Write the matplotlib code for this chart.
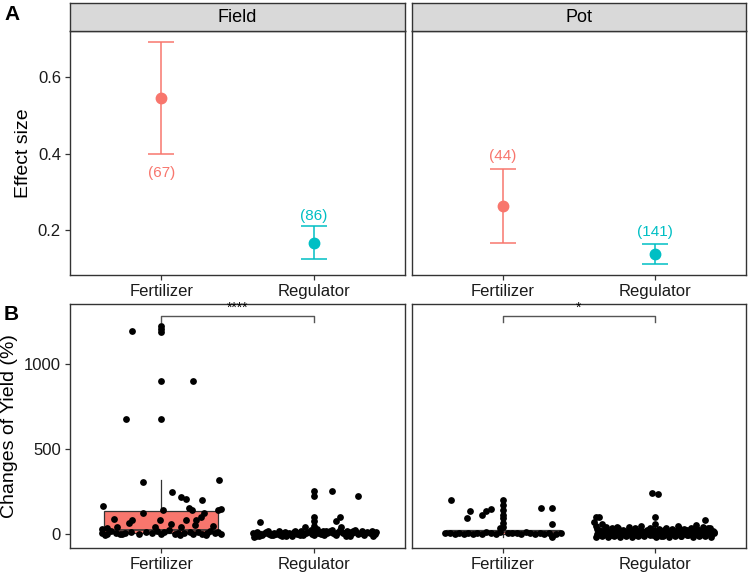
import numpy as np
import matplotlib.pyplot as plt

plt.rcParams['font.family'] = ['Liberation Sans', 'DejaVu Sans']

# ---- panel A data (effect size, CI, sample size)
groups = ['Fertilizer', 'Regulator']
settings = ['Field', 'Pot']
effect_mean = {'Field': [0.544, 0.167], 'Pot': [0.263, 0.139]}
effect_low = {'Field': [0.399, 0.124], 'Pot': [0.167, 0.111]}
effect_high = {'Field': [0.690, 0.210], 'Pot': [0.361, 0.165]}
n_labels = {'Field': ['(67)', '(86)'], 'Pot': ['(44)', '(141)']}
label_y = {'Field': [0.350, 0.238], 'Pot': [0.393, 0.195]}

# ---- panel B data (jittered raw points)
ff_off = [-0.19, 0, 0, 0, 0, 0.21, -0.23, 0, -0.12, 0.38, 0.07, 0.13, 0.16, -0.38, 0.27, 0.18, 0.20, 0.01,
          0.39, 0.37, 0.28, 0.26, 0.23, -0.12, -0.31, -0.19, -0.21, -0.01, 0.16, 0.06, 0.22, -0.29, 0.13,
          -0.04, 0.34, -0.36, -0.39,
          -0.39, -0.36, -0.33, -0.3, -0.27, -0.24, -0.2, -0.15, -0.1, -0.06, -0.03, 0.0, 0.02, 0.05, 0.09,
          0.11, 0.15, 0.19, 0.21, 0.24, 0.27, 0.3, 0.32, 0.35, 0.37, 0.39, -0.37, -0.26, 0.12, 0.29]
ff_val = [1193, 1221, 1203, 1188, 898, 898, 676, 676, 307, 316, 250, 217, 209, 168, 201, 156, 142, 142,
          150, 142, 123, 100, 82, 123, 91, 84, 68, 84, 84, 59, 53, 43, 43, 43, 49, 35, 29,
          10, 2, 18, 5, 0, 8, 15, 3, 12, 6, 20, 2, 14, 25, 4, 10, 7, 16, 3, 12, 1, 9, 20, 5, 14, 2,
          -3, 0, -2, -4]

fr_off = [0, 0, 0.12, 0.29, 0, 0, 0.17, 0.15, -0.35, 0, -0.06, 0.18,
          -0.40, -0.38, -0.37, -0.35, -0.34, -0.32, -0.31, -0.29, -0.28, -0.26,
          -0.25, -0.23, -0.22, -0.20, -0.19, -0.17, -0.16, -0.14, -0.13, -0.11,
          -0.10, -0.08, -0.07, -0.05, -0.04, -0.02, -0.01, 0.01, 0.02, 0.03,
          0.04, 0.05, 0.06, 0.08, 0.09, 0.10, 0.11, 0.13, 0.14, 0.16,
          0.17, 0.19, 0.20, 0.22, 0.23, 0.25, 0.26, 0.28, 0.29, 0.31,
          0.32, 0.34, 0.35, 0.37, 0.38, 0.40, 0.41, -0.36, -0.27, -0.18,
          -0.09, 0.0, 0.07, 0.15, 0.24, 0.33, -0.30, -0.12, 0.12, 0.27,
          -0.39, 0.39, -0.21, 0.21]
fr_val = [254, 224, 254, 224, 100, 80, 100, 80, 74, 49, 45, 45,
          5, -8, 12, 2, -3, 8, 15, 0, -6, 10,
          3, 18, -2, 7, 12, 0, 5, -10, 14, 3,
          8, 20, -4, 6, 11, 25, 2, 15, 30, 9,
          12, 4, 18, 22, 6, 14, 20, 8, 3, 16,
          25, 10, 5, 18, 12, 8, 20, 15, 4, 10,
          22, 6, 14, 9, 18, 3, 12, -12, -5, -8,
          -3, -2, -6, -4, -7, -3, 20, 22, 28, 26,
          -15, -10, -12, -9]

pf_off = [-0.34, 0, 0, 0, 0, 0, 0, -0.22, -0.24, -0.14, -0.11, -0.08, 0.25, 0.32, 0.32, 0.32, 0.0, -0.02,
          -0.38, -0.35, -0.32, -0.29, -0.26, -0.23, -0.2, -0.17, -0.14, -0.11, -0.08, -0.05, -0.02,
          0.03, 0.06, 0.09, 0.12, 0.15, 0.18, 0.21, 0.24, 0.27, 0.3, 0.35, 0.38, 0.32]
pf_val = [201, 201, 172, 142, 113, 94, 64, 137, 97, 111, 137, 147, 152, 152, 60, -14, 45, 35,
          5, 8, 2, 10, 3, 6, 0, 8, 4, 12, 6, 2, 15, 10, 5, 8, 3, 12, 6, 2, 9, 4, 10, 3, 6, -12]

pr_off = [-0.02, 0.02, 0, -0.39, -0.37, 0.33,
          -0.40, -0.39, -0.38, -0.37, -0.36, -0.35, -0.34, -0.33, -0.32, -0.31, -0.30, -0.29, -0.28, -0.27, -0.26,
          -0.25, -0.24, -0.23, -0.22, -0.21, -0.20, -0.19, -0.18, -0.17, -0.16, -0.15, -0.14, -0.13, -0.12, -0.11,
          -0.10, -0.09, -0.08, -0.07, -0.06, -0.05, -0.04, -0.03, -0.02, -0.01, 0.00, 0.01, 0.02, 0.03, 0.04,
          0.05, 0.06, 0.07, 0.08, 0.09, 0.10, 0.11, 0.12, 0.13, 0.14, 0.15, 0.16, 0.17, 0.18, 0.19,
          0.20, 0.21, 0.22, 0.23, 0.24, 0.25, 0.26, 0.27, 0.28, 0.29, 0.30, 0.31, 0.32, 0.33, 0.34,
          0.35, 0.36, 0.37, 0.38, 0.39, -0.39, -0.35, -0.31, -0.27, -0.23, -0.19, -0.15, -0.11, -0.07, -0.03,
          0.01, 0.05, 0.09, 0.13, 0.17, 0.21, 0.25, 0.29, 0.33, 0.37, -0.37, -0.33, -0.29, -0.25, -0.21,
          -0.17, -0.13, -0.09, -0.05, -0.01, 0.03, 0.07, 0.11, 0.15, 0.19, 0.23, 0.27, 0.31, 0.35, 0.39,
          -0.38, -0.34, -0.30, -0.26, -0.22, -0.18, -0.14, -0.10, -0.06, -0.02, 0.02, 0.06, 0.10, 0.14, 0.18]
pr_val = [240, 238, 100, 103, 100, 84,
          70, 50, 30, 10, -5, 60, 20, 0, 45, -10, 15, 5, 40, 25, -3,
          10, 35, -8, 20, 5, 15, -12, 8, 30, 0, 12, -5, 25, 6, 18,
          3, 22, -6, 14, 8, 28, 0, 40, 12, -3, 60, 20, 5, 15, -10,
          8, 25, 2, 18, -5, 12, 30, 6, 20, 0, 15, 35, -8, 10, 22,
          5, 28, -2, 15, 40, 8, 20, 0, 30, 12, -6, 18, 45, 3, 25,
          10, 35, -4, 20, 5, -15, -12, -18, -10, -14, -6, -16, -8, -12, -5,
          -14, -8, -15, -10, -12, -6, -16, -9, -11, -13, 25, 35, -2, 45, 28,
          45, 35, 50, 15, 25, 30, 40, 20, 50, 30, 18, 55, 28, 38, 12,
          2, 8, 12, 4, 16, 6, 10, 2, 20, 8, 4, 14, 2, 10, 6]

points = {'Field': [(ff_off, ff_val), (fr_off, fr_val)],
          'Pot': [(pf_off, pf_val), (pr_off, pr_val)]}

# box stats: q1, median, q3, whisker low, whisker high
box_stats = {'Field': [(10, 28, 138, -4, 318), (0, 10, 20, -15, 50)],
             'Pot': [(3, 15, 25, -14, 60), (0, 10, 25, -18, 60)]}
sig_text = {'Field': '****', 'Pot': '*'}

colors = ['#F8766D', '#00BFC4']
edge = '#333333'

W, H = 748, 573
fig = plt.figure(figsize=(W / 100, H / 100), dpi=100)


def px_axes(x0, y0, x1, y1):
    return fig.add_axes([x0 / W, 1 - y1 / H, (x1 - x0) / W, (y1 - y0) / H])


def style(ax, show_y):
    for s in ax.spines.values():
        s.set_color(edge)
        s.set_linewidth(1.0)
    ax.tick_params(axis='both', colors=edge, length=3.5, width=0.9, labelsize=12,
                   labelcolor='#1a1a1a', pad=3)
    if not show_y:
        ax.tick_params(axis='y', left=False, labelleft=False)
    ax.set_xlim(0.4, 2.6)
    ax.set_xticks([1, 2])
    ax.set_xticklabels(groups)


xpos = [(70, 405), (412, 746)]

# panel A
for i, st in enumerate(settings):
    x0, x1 = xpos[i]
    ax = px_axes(x0, 31, x1, 275)
    for j in range(2):
        m = effect_mean[st][j]
        ax.errorbar([j + 1], [m], yerr=[[m - effect_low[st][j]], [effect_high[st][j] - m]],
                    fmt='o', color=colors[j], ms=7.5, capsize=9.5, elinewidth=1.1, capthick=1.1)
        ax.text(j + 1, label_y[st][j], n_labels[st][j], color=colors[j], ha='center', va='center',
                fontsize=11)
    ax.set_ylim(0.083, 0.72)
    ax.set_yticks([0.2, 0.4, 0.6])
    style(ax, i == 0)
    if i == 0:
        ax.set_ylabel('Effect size', fontsize=14, labelpad=4)
    sax = px_axes(x0, 3, x1, 31)
    sax.set_facecolor('#D9D9D9')
    sax.set_xticks([])
    sax.set_yticks([])
    for s in sax.spines.values():
        s.set_color(edge)
        s.set_linewidth(1.0)
    sax.text(0.5, 0.5, st, ha='center', va='center', fontsize=13, transform=sax.transAxes)

# panel B
for i, st in enumerate(settings):
    x0, x1 = xpos[i]
    ax = px_axes(x0, 304, x1, 548)
    bxp = []
    for j in range(2):
        q1, med, q3, lo, hi = box_stats[st][j]
        bxp.append({'q1': q1, 'med': med, 'q3': q3, 'whislo': lo, 'whishi': hi, 'fliers': []})
    bp = ax.bxp(bxp, positions=[1, 2], widths=0.75, patch_artist=True, showfliers=False,
                showcaps=False,
                boxprops=dict(edgecolor=edge, linewidth=0.9),
                medianprops=dict(color=edge, linewidth=1.2),
                whiskerprops=dict(color=edge, linewidth=0.9))
    for j, b in enumerate(bp['boxes']):
        b.set_facecolor(colors[j])
    for j in range(2):
        off, val = points[st][j]
        ax.scatter(np.array(off) + j + 1, val, s=24, color='black', zorder=3, linewidths=0)
    ax.plot([1, 1, 2, 2], [1242, 1281, 1281, 1242], color='#555555', lw=1.0)
    ax.text(1.5, 1288, sig_text[st], ha='center', va='bottom', fontsize=10)
    ax.set_ylim(-80, 1350)
    ax.set_yticks([0, 500, 1000])
    style(ax, i == 0)
    if i == 0:
        ax.set_ylabel('Changes of Yield (%)', fontsize=14, labelpad=4)

fig.text(4 / W, 1 - 14 / H, 'A', fontsize=15, fontweight='bold', va='center', ha='left')
fig.text(4 / W, 1 - 314 / H, 'B', fontsize=15, fontweight='bold', va='center', ha='left')

fig.savefig('out.png', dpi=100)
